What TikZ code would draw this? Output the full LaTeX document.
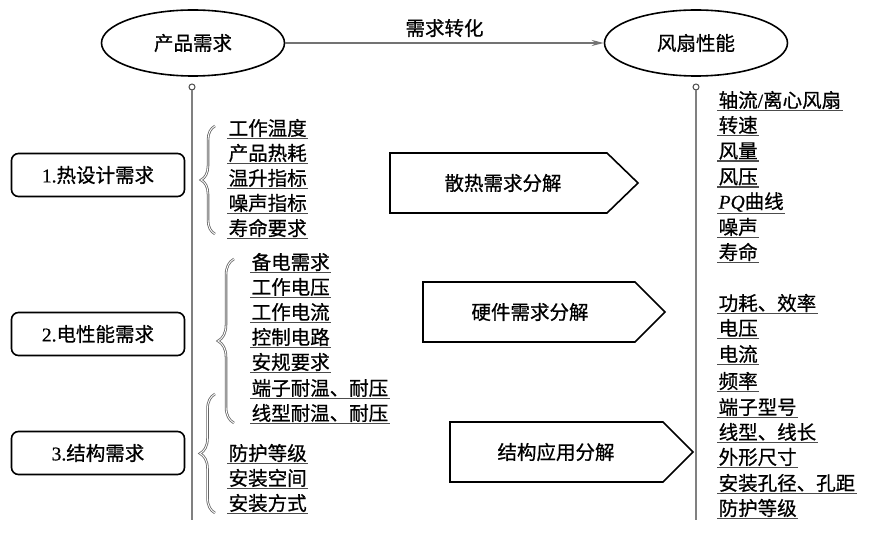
\documentclass[tikz,border=0pt]{standalone}
\usepackage{fontspec}
\setmainfont{Noto Sans CJK SC}[FakeBold=0.7]
\newfontfamily\latinfont{Liberation Serif}[FakeBold=0.5]
\usetikzlibrary{arrows.meta,decorations.pathreplacing,shapes.geometric}
\tikzset{
  oval/.style={ellipse, draw, line width=1.6pt, minimum width=183pt, minimum height=66pt, inner sep=0pt},
  dot/.style={circle, draw=black!70, line width=1pt, minimum size=6pt, inner sep=0pt, fill=white},
  vline/.style={draw=black!50, line width=1.4pt},
  catbox/.style={draw, rounded corners=7pt, line width=1.6pt, minimum width=173pt, minimum height=43pt, inner sep=0pt},
  chev/.style={draw, line width=1.6pt, line join=miter},
  item/.style={anchor=west, inner xsep=1.5pt, inner ysep=1.2pt},
  uline/.style={draw=black!70, line width=1.3pt},
  brc/.style={draw=black!60, line width=0.8pt, double=white, double distance=0.9pt, decorate},
  conv/.style={draw=black!55, line width=1.3pt, -{Stealth[length=12pt,width=6pt]}},
}
\newcommand\myitem[4]{\node[item] (#1) at (#2,#3) {#4}; \draw[uline] (#1.south west) -- (#1.south east);}
\begin{document}
\begin{tikzpicture}[x=1pt,y=-1pt, font=\fontsize{19.5}{22}\selectfont]
\useasboundingbox (0,0) rectangle (879,534);
% top ellipses
\node[oval] (pn) at (193,43) {产品需求};
\node[oval] (fs) at (696,43) {风扇性能};
\draw[conv] (pn) -- node[above=2pt, text=black] {需求转化} (fs);
% dots and vertical lines
\node[dot] (d1) at (192,87) {};
\node[dot] (d2) at (696,87) {};
\coordinate (e1) at (192,520);
\coordinate (e2) at (696,520);
\draw[vline] (d1.south) -- (e1);
\draw[vline] (d2.south) -- (e2);
% category boxes
\node[catbox] (b1) at (98,175) {{\latinfont 1.}热设计需求};
\node[catbox] (b2) at (98,334) {{\latinfont 2.}电性能需求};
\node[catbox] (b3) at (98,453) {{\latinfont 3.}结构需求};
% braces
\draw[brc, decoration={brace, amplitude=14pt}] (215,234) -- (215,126);
\draw[brc, decoration={brace, amplitude=16pt}] (234,423) -- (234,259);
\draw[brc, decoration={brace, amplitude=15pt}] (215,513) -- (215,394);
% left items group 1
\myitem{a1}{227}{128}{工作温度}
\myitem{a2}{227}{153}{产品热耗}
\myitem{a3}{227}{178}{温升指标}
\myitem{a4}{227}{203}{噪声指标}
\myitem{a5}{227}{228}{寿命要求}
% group 2
\myitem{g1}{250}{262}{备电需求}
\myitem{g2}{250}{287}{工作电压}
\myitem{g3}{250}{312}{工作电流}
\myitem{g4}{250}{337}{控制电路}
\myitem{g5}{250}{362}{安规要求}
\myitem{g6}{250}{388}{端子耐温、耐压}
\myitem{g7}{250}{413}{线型耐温、耐压}
% group 3
\myitem{s1}{227}{453}{防护等级}
\myitem{s2}{227}{478}{安装空间}
\myitem{s3}{227}{503}{安装方式}
% chevrons
\draw[chev] (390,153) -- (607,153) -- (638,183) -- (607,213) -- (390,213) -- cycle;
\node (c1) at (503,183) {散热需求分解};
\draw[chev] (423,282) -- (635,282) -- (665,312) -- (635,342) -- (423,342) -- cycle;
\node (c2) at (530,312) {硬件需求分解};
\draw[chev] (450,422) -- (663,422) -- (693,452) -- (663,482) -- (450,482) -- cycle;
\node (c3) at (556,452) {结构应用分解};
% right items
\myitem{r1}{717}{100}{轴流{\latinfont /}离心风扇}
\myitem{r2}{717}{125}{转速}
\myitem{r3}{717}{151}{风量}
\myitem{r4}{717}{177}{风压}
\myitem{r5}{717}{202}{{\latinfont\itshape PQ}曲线}
\myitem{r6}{717}{227}{噪声}
\myitem{r7}{717}{252}{寿命}
\myitem{r8}{717}{303}{功耗、效率}
\myitem{r9}{717}{328}{电压}
\myitem{r10}{717}{354}{电流}
\myitem{r11}{717}{381}{频率}
\myitem{r12}{717}{407}{端子型号}
\myitem{r13}{717}{432}{线型、线长}
\myitem{r14}{717}{457}{外形尺寸}
\myitem{r15}{717}{483}{安装孔径、孔距}
\myitem{r16}{717}{508}{防护等级}
\end{tikzpicture}
\end{document}
